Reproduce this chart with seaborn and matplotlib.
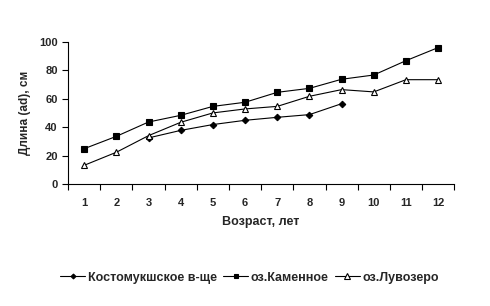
import pandas as pd
import numpy as np
import matplotlib
matplotlib.use("Agg")
import matplotlib.pyplot as plt
import seaborn as sns

ages = list(range(1, 13))
kostomuksha = [np.nan, np.nan, 32.4, 37.7, 41.8, 44.8, 46.9, 48.8, 56.5, np.nan, np.nan, np.nan]
kamennoe = [24.8, 33.5, 43.6, 48.3, 54.6, 57.5, 64.5, 67.3, 73.7, 76.7, 86.8, 96.0]
luvozero = [13.1, 22.3, 34.0, 43.4, 50.0, 52.8, 54.6, 61.7, 66.4, 64.8, 73.4, 73.4]
names = ["Костомукшское в-ще", "оз.Каменное", "оз.Лувозеро"]

df = pd.DataFrame({
    "age": ages * 3,
    "length": kostomuksha + kamennoe + luvozero,
    "site": [names[0]] * 12 + [names[1]] * 12 + [names[2]] * 12,
}).dropna()

sns.set_style("white")
plt.rcParams['font.family'] = ['Liberation Sans', 'DejaVu Sans']
plt.rcParams['font.weight'] = 'bold'

fig = plt.figure(figsize=(4.9, 3.06), dpi=100)
ax = fig.add_axes([0.139, 0.399, 0.788, 0.464])

styles = {
    names[0]: dict(marker="D", ms=3.3, mfc="black"),
    names[1]: dict(marker="s", ms=4.0, mfc="black"),
    names[2]: dict(marker="^", ms=5.0, mfc="white"),
}
for name in names:
    sub = df[df["site"] == name]
    sns.lineplot(data=sub, x="age", y="length", ax=ax, color="black", lw=0.8,
                 mec="black", mew=0.8, label=name, **styles[name])

ax.set_xlim(0.5, 12.5)
ax.set_ylim(0, 100)
ax.set_yticks(range(0, 101, 20))
ax.set_xticks(ages)
ax.set_xticks(np.arange(0.5, 13, 1), minor=True)
ax.tick_params(axis="x", which="major", length=0, pad=10, labelsize=8)
ax.tick_params(axis="x", which="minor", length=4, width=0.8, color="black", direction="out", bottom=True)
ax.tick_params(axis="y", length=4, width=0.8, color="black", direction="out", left=True, labelsize=8)
for s in ["top", "right"]:
    ax.spines[s].set_visible(False)
for s in ["left", "bottom"]:
    ax.spines[s].set_color("black")
    ax.spines[s].set_linewidth(0.8)

ax.set_xlabel("Возраст, лет", fontsize=9, fontweight="bold", labelpad=6)
ax.set_ylabel("Длина (ad), см", fontsize=8.5, fontweight="bold", labelpad=6)

ax.legend(loc="upper center", bbox_to_anchor=(0.47, -0.54), ncol=3, frameon=False,
          fontsize=9, handlelength=2.0, handletextpad=0.2, columnspacing=0.5,
          markerscale=0.75)

fig.savefig("out.png", dpi=100)
